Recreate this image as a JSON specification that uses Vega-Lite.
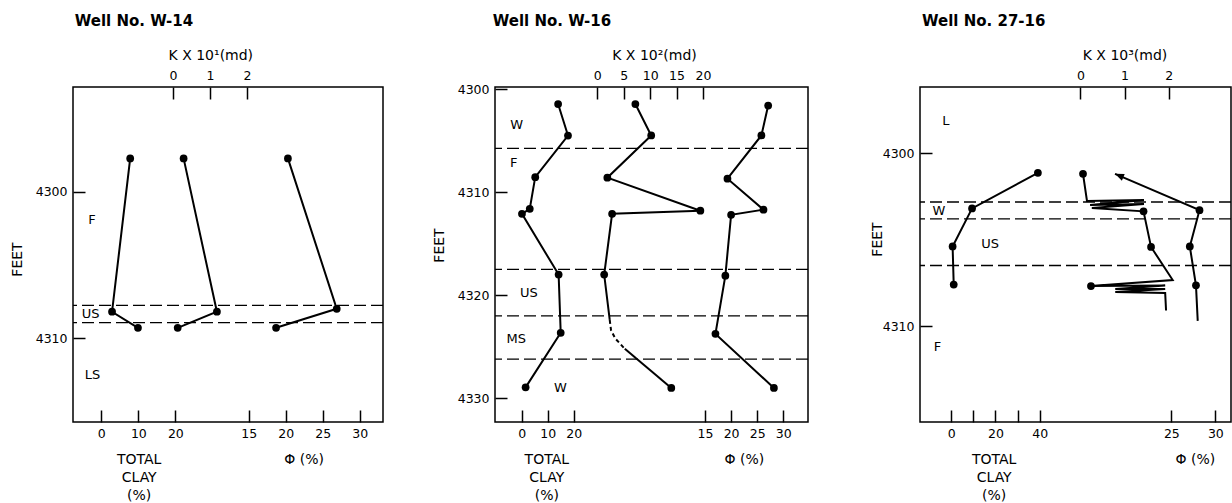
{
  "$schema": "https://vega.github.io/schema/vega-lite/v6.json",
  "padding": {"left": 9, "top": 13, "right": 2, "bottom": 4},
  "spacing": 112,
  "bounds": "flush",
  "resolve": {"scale": {"x": "independent", "y": "independent"}},
  "config": {
    "font": "DejaVu Sans",
    "background": "white",
    "view": {"stroke": "black", "strokeWidth": 1.5},
    "axis": {"domain": false, "grid": false, "offset": -12, "tickColor": "black", "tickWidth": 1.5, "tickSize": 12, "labelColor": "black", "labelFont": "DejaVu Sans", "labelFontSize": 12.5, "labelPadding": 5, "labelOverlap": false, "labelFlush": false, "titleColor": "black", "titleFont": "DejaVu Sans", "titleFontWeight": "normal", "titleFontSize": 14, "titleLineHeight": 18},
    "axisY": {"labelPadding": 6},
    "title": {"font": "DejaVu Sans", "fontSize": 15, "fontWeight": "bold", "color": "black", "anchor": "start", "frame": "group", "baseline": "alphabetic"}
  },
  "datasets": {
    "p1_clay": [{"depth": 4297.7, "value": 7.8}, {"depth": 4308.2, "value": 2.9}, {"depth": 4309.3, "value": 9.9}],
    "p1_k": [{"depth": 4297.7, "value": 0.29}, {"depth": 4308.2, "value": 1.19}, {"depth": 4309.3, "value": 0.13}],
    "p1_phi": [{"depth": 4297.7, "value": 20.3}, {"depth": 4308.0, "value": 26.9}, {"depth": 4309.3, "value": 18.7}],
    "p1_bounds": [{"depth": 4307.76}, {"depth": 4308.95}],
    "p1_zones": [{"zone": "F", "depth": 4301.94, "value": -2.5}, {"zone": "US", "depth": 4308.34, "value": -2.9}, {"zone": "LS", "depth": 4312.56, "value": -2.4}],
    "p2_clay": [{"depth": 4301.45, "value": 14.0}, {"depth": 4304.51, "value": 17.8}, {"depth": 4308.55, "value": 5.2}, {"depth": 4311.62, "value": 3.1}, {"depth": 4312.1, "value": 0.1}, {"depth": 4318.0, "value": 14.2}, {"depth": 4323.65, "value": 15.0}, {"depth": 4328.94, "value": 1.5}],
    "p2_k": [
      {"depth": 4301.45, "value": 7.2, "kind": "sample", "part": "a"},
      {"depth": 4304.5, "value": 10.2, "kind": "sample", "part": "a"},
      {"depth": 4308.6, "value": 1.9, "kind": "sample", "part": "a"},
      {"depth": 4311.8, "value": 19.5, "kind": "sample", "part": "a"},
      {"depth": 4312.1, "value": 2.8, "kind": "sample", "part": "a"},
      {"depth": 4318.0, "value": 1.3, "kind": "sample", "part": "a"},
      {"depth": 4322.4, "value": 2.35, "kind": "vertex", "part": "a"},
      {"depth": 4325.2, "value": 5.2, "kind": "vertex", "part": "c"},
      {"depth": 4329.0, "value": 14.0, "kind": "sample", "part": "c"}
    ],
    "p2_k_inferred": [{"depth": 4322.4, "value": 2.35}, {"depth": 4323.4, "value": 2.6}, {"depth": 4324.2, "value": 3.4}, {"depth": 4325.2, "value": 5.2}],
    "p2_phi": [{"depth": 4301.6, "value": 27.1}, {"depth": 4304.5, "value": 25.8}, {"depth": 4308.7, "value": 19.3}, {"depth": 4311.7, "value": 26.2}, {"depth": 4312.2, "value": 20.0}, {"depth": 4318.1, "value": 18.9}, {"depth": 4323.75, "value": 17.0}, {"depth": 4329.0, "value": 28.2}],
    "p2_bounds": [{"depth": 4305.75}, {"depth": 4317.5}, {"depth": 4322.0}, {"depth": 4326.2}],
    "p2_zones": [{"zone": "W", "depth": 4303.49, "value": -1.9}, {"zone": "F", "depth": 4307.16, "value": -3.1}, {"zone": "US", "depth": 4319.78, "value": 2.8}, {"zone": "MS", "depth": 4324.2, "value": -2.1}, {"zone": "W", "depth": 4328.97, "value": 14.85}],
    "p3_clay": [{"depth": 4301.14, "value": 39.2}, {"depth": 4303.2, "value": 9.4}, {"depth": 4305.4, "value": 0.6}, {"depth": 4307.6, "value": 1.1}],
    "p3_k": [
      {"i": 1, "depth": 4301.2, "value": 0.06, "kind": "sample"},
      {"i": 2, "depth": 4302.77, "value": 0.15, "kind": "vertex"},
      {"i": 3, "depth": 4302.72, "value": 1.44, "kind": "vertex"},
      {"i": 4, "depth": 4303.0, "value": 0.22, "kind": "vertex"},
      {"i": 5, "depth": 4302.95, "value": 1.44, "kind": "vertex"},
      {"i": 6, "depth": 4303.18, "value": 0.26, "kind": "vertex"},
      {"i": 7, "depth": 4303.37, "value": 1.43, "kind": "sample"},
      {"i": 8, "depth": 4305.43, "value": 1.6, "kind": "sample"},
      {"i": 9, "depth": 4307.34, "value": 2.09, "kind": "vertex"},
      {"i": 10, "depth": 4307.69, "value": 0.24, "kind": "sample"},
      {"i": 11, "depth": 4307.66, "value": 1.92, "kind": "vertex"},
      {"i": 12, "depth": 4307.86, "value": 0.79, "kind": "vertex"},
      {"i": 13, "depth": 4307.86, "value": 1.92, "kind": "vertex"},
      {"i": 14, "depth": 4308.03, "value": 0.79, "kind": "vertex"},
      {"i": 15, "depth": 4308.09, "value": 1.92, "kind": "vertex"},
      {"i": 16, "depth": 4309.1, "value": 1.94, "kind": "vertex"}
    ],
    "p3_phi": [
      {"i": 1, "depth": 4301.2, "value": 18.6, "kind": "arrow"},
      {"i": 2, "depth": 4303.3, "value": 28.2, "kind": "sample"},
      {"i": 3, "depth": 4305.4, "value": 27.1, "kind": "sample"},
      {"i": 4, "depth": 4307.65, "value": 27.8, "kind": "sample"},
      {"i": 5, "depth": 4309.7, "value": 28.0, "kind": "vertex"}
    ],
    "p3_bounds": [{"depth": 4302.83}, {"depth": 4303.8}, {"depth": 4306.5}],
    "p3_zones": [{"zone": "L", "depth": 4298.17, "value": -2.5}, {"zone": "W", "depth": 4303.34, "value": -5.6}, {"zone": "US", "depth": 4305.24, "value": 17.6}, {"zone": "F", "depth": 4311.2, "value": -6.3}]
  },
  "hconcat": [
    {
      "width": 310, "height": 335,
      "title": {"text": "Well No. W-14", "dx": 1.7, "offset": 19},
      "encoding": {"y": {"field": "depth", "type": "quantitative", "scale": {"domain": [4292.81, 4315.75], "reverse": true, "nice": false, "zero": false}, "axis": {"values": [4300, 4310], "format": "d", "title": "FEET", "titleX": -67.5, "titleY": 172, "titleAngle": -90, "titleAlign": "center", "titleBaseline": "middle", "titleFontSize": 14}}},
      "resolve": {"scale": {"x": "independent"}},
      "layer": [
        {"data": {"name": "p1_bounds"}, "mark": {"type": "rule", "strokeDash": [12, 5], "strokeWidth": 1.3, "color": "black"}, "encoding": {}},
        {
          "encoding": {"x": {"field": "value", "type": "quantitative", "scale": {"domain": [-7.65, 76.1], "nice": false, "zero": false}, "axis": {"orient": "bottom", "values": [0, 10, 20], "title": ["TOTAL", "CLAY", "(%)"], "titleX": 65.7, "titleY": 42, "titleAlign": "center", "titleBaseline": "top"}}},
          "layer": [
            {"data": {"name": "p1_clay"}, "mark": {"type": "line", "color": "black", "strokeWidth": 2}, "encoding": {"order": {"field": "depth"}}},
            {"data": {"name": "p1_clay"}, "mark": {"type": "point", "filled": true, "color": "black", "size": 60, "opacity": 1}},
            {"data": {"name": "p1_zones"}, "mark": {"type": "text", "fontSize": 13, "color": "black", "align": "center", "baseline": "middle"}, "encoding": {"text": {"field": "zone"}}}
          ]
        },
        {
          "data": {"name": "p1_k"},
          "encoding": {"x": {"field": "value", "type": "quantitative", "scale": {"domain": [-2.70, 5.68], "nice": false, "zero": false}, "axis": {"orient": "top", "values": [0, 1, 2], "title": "K X 10¹(md)", "titleX": 137.3, "titleY": -40, "titleAlign": "center", "titleBaseline": "alphabetic"}}},
          "layer": [
            {"mark": {"type": "line", "color": "black", "strokeWidth": 2}, "encoding": {"order": {"field": "depth"}}},
            {"mark": {"type": "point", "filled": true, "color": "black", "size": 60, "opacity": 1}}
          ]
        },
        {
          "data": {"name": "p1_phi"},
          "encoding": {"x": {"field": "value", "type": "quantitative", "scale": {"domain": [-8.74, 33.15], "nice": false, "zero": false}, "axis": {"orient": "bottom", "values": [15, 20, 25, 30], "title": "Φ (%)", "titleX": 230.7, "titleY": 42, "titleAlign": "center", "titleBaseline": "top"}}},
          "layer": [
            {"mark": {"type": "line", "color": "black", "strokeWidth": 2}, "encoding": {"order": {"field": "depth"}}},
            {"mark": {"type": "point", "filled": true, "color": "black", "size": 60, "opacity": 1}}
          ]
        }
      ]
    },
    {
      "width": 313, "height": 335,
      "title": {"text": "Well No. W-16", "dx": -2.3, "offset": 19},
      "encoding": {"y": {"field": "depth", "type": "quantitative", "scale": {"domain": [4299.8, 4332.3], "reverse": true, "nice": false, "zero": false}, "axis": {"values": [4300, 4310, 4320, 4330], "format": "d", "title": "FEET", "titleX": -68, "titleY": 158, "titleAngle": -90, "titleAlign": "center", "titleBaseline": "middle", "titleFontSize": 14}}},
      "resolve": {"scale": {"x": "independent"}},
      "layer": [
        {"data": {"name": "p2_bounds"}, "mark": {"type": "rule", "strokeDash": [12, 5], "strokeWidth": 1.3, "color": "black"}, "encoding": {}},
        {
          "encoding": {"x": {"field": "value", "type": "quantitative", "scale": {"domain": [-10.27, 110.1], "nice": false, "zero": false}, "axis": {"orient": "bottom", "values": [0, 10, 20], "title": ["TOTAL", "CLAY", "(%)"], "titleX": 51.3, "titleY": 42, "titleAlign": "center", "titleBaseline": "top"}}},
          "layer": [
            {"data": {"name": "p2_clay"}, "mark": {"type": "line", "color": "black", "strokeWidth": 2}, "encoding": {"order": {"field": "depth"}}},
            {"data": {"name": "p2_clay"}, "mark": {"type": "point", "filled": true, "color": "black", "size": 60, "opacity": 1}},
            {"data": {"name": "p2_zones"}, "mark": {"type": "text", "fontSize": 13, "color": "black", "align": "center", "baseline": "middle"}, "encoding": {"text": {"field": "zone"}}}
          ]
        },
        {
          "encoding": {"x": {"field": "value", "type": "quantitative", "scale": {"domain": [-19.36, 39.87], "nice": false, "zero": false}, "axis": {"orient": "top", "values": [0, 5, 10, 15, 20], "title": "K X 10²(md)", "titleX": 159, "titleY": -40, "titleAlign": "center", "titleBaseline": "alphabetic"}}},
          "layer": [
            {"data": {"name": "p2_k"}, "mark": {"type": "line", "color": "black", "strokeWidth": 2}, "encoding": {"order": {"field": "depth"}, "detail": {"field": "part"}}},
            {"data": {"name": "p2_k_inferred"}, "mark": {"type": "line", "color": "black", "strokeWidth": 2, "strokeDash": [4, 3]}, "encoding": {"order": {"field": "depth"}}},
            {"data": {"name": "p2_k"}, "transform": [{"filter": "datum.kind === 'sample'"}], "mark": {"type": "point", "filled": true, "color": "black", "size": 60, "opacity": 1}}
          ]
        },
        {
          "data": {"name": "p2_phi"},
          "encoding": {"x": {"field": "value", "type": "quantitative", "scale": {"domain": [-25.23, 34.73], "nice": false, "zero": false}, "axis": {"orient": "bottom", "values": [15, 20, 25, 30], "title": "Φ (%)", "titleX": 248.8, "titleY": 42, "titleAlign": "center", "titleBaseline": "top"}}},
          "layer": [
            {"mark": {"type": "line", "color": "black", "strokeWidth": 2}, "encoding": {"order": {"field": "depth"}}},
            {"mark": {"type": "point", "filled": true, "color": "black", "size": 60, "opacity": 1}}
          ]
        }
      ]
    },
    {
      "width": 311, "height": 335,
      "title": {"text": "Well No. 27-16", "dx": 2, "offset": 19},
      "encoding": {"y": {"field": "depth", "type": "quantitative", "scale": {"domain": [4296.18, 4315.55], "reverse": true, "nice": false, "zero": false}, "axis": {"values": [4300, 4310], "format": "d", "title": "FEET", "titleX": -55, "titleY": 152, "titleAngle": -90, "titleAlign": "center", "titleBaseline": "middle", "titleFontSize": 14}}},
      "resolve": {"scale": {"x": "independent"}},
      "layer": [
        {"data": {"name": "p3_bounds"}, "mark": {"type": "rule", "strokeDash": [12, 5], "strokeWidth": 1.3, "color": "black"}, "encoding": {}},
        {
          "encoding": {"x": {"field": "value", "type": "quantitative", "scale": {"domain": [-14.16, 126.6], "nice": false, "zero": false}, "axis": {"orient": "bottom", "values": [0, 10, 20, 30, 40], "labelExpr": "datum.value % 20 === 0 ? datum.label : ''", "title": ["TOTAL", "CLAY", "(%)"], "titleX": 73.7, "titleY": 42, "titleAlign": "center", "titleBaseline": "top"}}},
          "layer": [
            {"data": {"name": "p3_clay"}, "mark": {"type": "line", "color": "black", "strokeWidth": 2}, "encoding": {"order": {"field": "depth"}}},
            {"data": {"name": "p3_clay"}, "mark": {"type": "point", "filled": true, "color": "black", "size": 60, "opacity": 1}},
            {"data": {"name": "p3_zones"}, "mark": {"type": "text", "fontSize": 13, "color": "black", "align": "center", "baseline": "middle"}, "encoding": {"text": {"field": "zone"}}}
          ]
        },
        {
          "data": {"name": "p3_k"},
          "encoding": {"x": {"field": "value", "type": "quantitative", "scale": {"domain": [-3.63, 3.41], "nice": false, "zero": false}, "axis": {"orient": "top", "values": [0, 1, 2], "title": "K X 10³(md)", "titleX": 204.5, "titleY": -40, "titleAlign": "center", "titleBaseline": "alphabetic"}}},
          "layer": [
            {"mark": {"type": "line", "color": "black", "strokeWidth": 2}, "encoding": {"order": {"field": "i"}}},
            {"transform": [{"filter": "datum.kind === 'sample'"}], "mark": {"type": "point", "filled": true, "color": "black", "size": 60, "opacity": 1}}
          ]
        },
        {
          "data": {"name": "p3_phi"},
          "encoding": {"x": {"field": "value", "type": "quantitative", "scale": {"domain": [-3.56, 31.78], "nice": false, "zero": false}, "axis": {"orient": "bottom", "values": [25, 30], "title": "Φ (%)", "titleX": 274.8, "titleY": 42, "titleAlign": "center", "titleBaseline": "top"}}},
          "layer": [
            {"mark": {"type": "line", "color": "black", "strokeWidth": 2}, "encoding": {"order": {"field": "i"}}},
            {"transform": [{"filter": "datum.kind === 'sample'"}], "mark": {"type": "point", "filled": true, "color": "black", "size": 60, "opacity": 1}},
            {"transform": [{"filter": "datum.kind === 'arrow'"}], "mark": {"type": "point", "filled": true, "color": "black", "size": 324, "opacity": 1, "shape": "M0,0L1,-0.4L1,0.4Z", "angle": 23}}
          ]
        }
      ]
    }
  ]
}
